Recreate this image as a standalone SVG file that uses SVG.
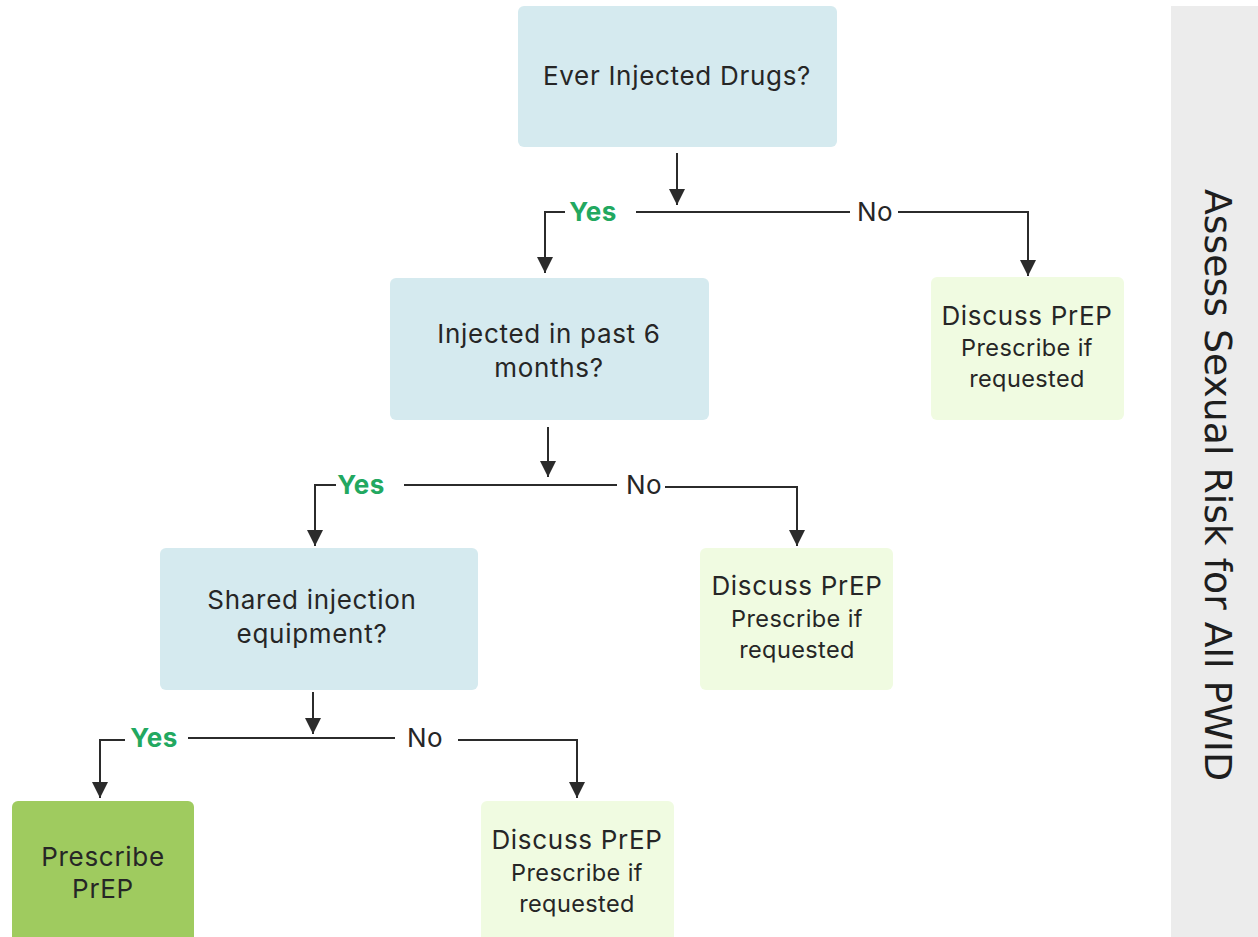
<svg xmlns="http://www.w3.org/2000/svg" width="1258" height="937" viewBox="0 0 1258 937">
  <defs>
    <marker id="arrow" viewBox="0 0 10 10" refX="10" refY="5" markerWidth="8" markerHeight="8" markerUnits="strokeWidth" orient="auto">
      <path d="M0,0 L10,5 L0,10 Z" fill="#2b2b2b"/>
    </marker>
    <style>
      .q { fill: #d5eaef; }
      .d { fill: #f0fbe1; }
      .p { fill: #9fcb5f; }
      .t { font-family: Inter, "Open Sans", sans-serif; font-size: 26px; letter-spacing: 0.7px; fill: #262626; text-anchor: middle; }
      .t2 { font-family: Inter, "Open Sans", sans-serif; font-size: 23.5px; letter-spacing: 0.4px; fill: #262626; text-anchor: middle; }
      .yes { font-family: Inter, "Open Sans", sans-serif; font-size: 26px; font-weight: 700; letter-spacing: 0.5px; fill: #22a860; text-anchor: middle; }
      .no { font-family: Inter, "Open Sans", sans-serif; font-size: 26px; letter-spacing: 0.5px; fill: #262626; text-anchor: middle; }
      .c { fill: none; stroke: #2b2b2b; stroke-width: 2; }
      .ca { fill: none; stroke: #2b2b2b; stroke-width: 2; marker-end: url(#arrow); }
    </style>
  </defs>
  <rect width="1258" height="937" fill="#ffffff"/>

  <!-- side banner -->
  <g id="side-panel">
    <rect x="1171" y="6" width="87" height="931" fill="#ececec"/>
    <text x="0" y="0" transform="translate(1205,485) rotate(90)" font-family="'DejaVu Sans Condensed', 'Liberation Sans', sans-serif" font-size="38" fill="#1e1e1e" text-anchor="middle" textLength="592" lengthAdjust="spacingAndGlyphs">Assess Sexual Risk for All PWID</text>
  </g>

  <!-- decision nodes -->
  <g id="q-ever">
    <rect class="q" x="518" y="6" width="319" height="141" rx="6"/>
    <text class="t" x="677" y="85">Ever Injected Drugs?</text>
  </g>
  <g id="q-recent">
    <rect class="q" x="390" y="278" width="319" height="142" rx="6"/>
    <text class="t" x="549" y="343">Injected in past 6</text>
    <text class="t" x="549" y="377">months?</text>
  </g>
  <g id="q-shared">
    <rect class="q" x="160" y="548" width="318" height="142" rx="6"/>
    <text class="t" x="312" y="609">Shared injection</text>
    <text class="t" x="312" y="643">equipment?</text>
  </g>

  <!-- outcome nodes -->
  <g id="discuss-1">
    <rect class="d" x="931" y="277" width="193" height="143" rx="6"/>
    <text class="t" x="1027" y="325">Discuss PrEP</text>
    <text class="t2" x="1027" y="356">Prescribe if</text>
    <text class="t2" x="1027" y="387">requested</text>
  </g>
  <g id="discuss-2">
    <rect class="d" x="700" y="548" width="193" height="142" rx="6"/>
    <text class="t" x="797" y="595">Discuss PrEP</text>
    <text class="t2" x="797" y="627">Prescribe if</text>
    <text class="t2" x="797" y="658">requested</text>
  </g>
  <g id="discuss-3">
    <rect class="d" x="481" y="801" width="193" height="145" rx="6"/>
    <text class="t" x="577" y="849">Discuss PrEP</text>
    <text class="t2" x="577" y="881">Prescribe if</text>
    <text class="t2" x="577" y="912">requested</text>
  </g>
  <g id="prescribe">
    <rect class="p" x="12" y="801" width="182" height="145" rx="6"/>
    <text class="t" x="103" y="866">Prescribe</text>
    <text class="t" x="103" y="898">PrEP</text>
  </g>

  <!-- connectors -->
  <g id="connectors">
    <path class="ca" d="M677,153 V205"/>
    <path class="c" d="M636,212 H850"/>
    <path class="ca" d="M898,212 H1028 V276"/>
    <path class="ca" d="M565,212 H545 V273"/>
    <text class="yes" x="593" y="221">Yes</text>
    <text class="no" x="875" y="221">No</text>

    <path class="ca" d="M548,427 V477"/>
    <path class="c" d="M404,485 H617"/>
    <path class="ca" d="M665,487 H797 V546"/>
    <path class="ca" d="M336,485 H315 V546"/>
    <text class="yes" x="361" y="494">Yes</text>
    <text class="no" x="644" y="494">No</text>

    <path class="ca" d="M313,692 V734"/>
    <path class="c" d="M188,738 H395"/>
    <path class="ca" d="M458,740 H577 V798"/>
    <path class="ca" d="M125,740 H100 V798"/>
    <text class="yes" x="154" y="747">Yes</text>
    <text class="no" x="425" y="747">No</text>
  </g>
</svg>
